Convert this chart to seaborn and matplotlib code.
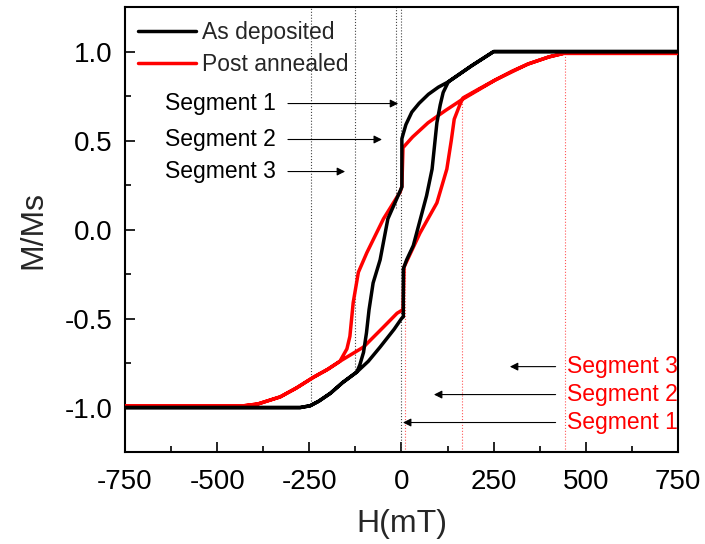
import numpy as np
import pandas as pd
import matplotlib
matplotlib.use("Agg")
import matplotlib.pyplot as plt
from matplotlib.ticker import MultipleLocator, FormatStrFormatter
import seaborn as sns

# hysteresis loops (H in mT, M/Ms)
dep_down_h = [750, 500, 250, 190, 127, 100, 73, 48, 28, 12, 5, 1, 1, -3, -37, -58, -77, -88, -95, -103, -113, -121, -160, -193, -225, -248, -275, -500, -750]
dep_down_m = [1.0, 1.0, 1.0, 0.92, 0.83, 0.80, 0.76, 0.71, 0.66, 0.59, 0.54, 0.51, 0.24, 0.22, 0.06, -0.17, -0.30, -0.45, -0.58, -0.69, -0.76, -0.80, -0.86, -0.92, -0.965, -0.99, -1.0, -1.0, -1.0]
dep_up_h = [-750, -500, -275, -248, -225, -193, -160, -121, -90, -58, -20, 0, 5, 5, 14, 32, 68, 83, 96, 105, 113, 127, 190, 250, 500, 750]
dep_up_m = [-1.0, -1.0, -1.0, -0.99, -0.965, -0.92, -0.86, -0.80, -0.74, -0.66, -0.56, -0.50, -0.49, -0.22, -0.17, -0.09, 0.19, 0.34, 0.60, 0.70, 0.77, 0.83, 0.92, 1.0, 1.0, 1.0]

ann_down_h = [750, 500, 440, 400, 343, 254, 164, 120, 72, 30, 4, 1, -4, -49, -94, -117, -131, -140, -148, -167, -200, -239, -285, -329, -390, -428, -500, -750]
ann_down_m = [0.99, 0.99, 0.99, 0.97, 0.93, 0.84, 0.73, 0.67, 0.60, 0.52, 0.46, 0.24, 0.21, 0.06, -0.13, -0.24, -0.41, -0.60, -0.67, -0.74, -0.785, -0.83, -0.89, -0.94, -0.98, -0.99, -0.99, -0.99]
ann_up_h = [-750, -500, -428, -390, -329, -285, -239, -200, -167, -103, -50, -12, 4, 7, 50, 96, 123, 135, 143, 158, 167, 210, 254, 300, 343, 400, 440, 500, 750]
ann_up_m = [-0.99, -0.99, -0.99, -0.98, -0.94, -0.89, -0.83, -0.785, -0.74, -0.66, -0.55, -0.47, -0.45, -0.21, -0.02, 0.15, 0.34, 0.50, 0.62, 0.70, 0.74, 0.79, 0.84, 0.89, 0.93, 0.97, 0.99, 0.99, 0.99]

# guide lines marking the segments
guide_dep_h = [-245, -126, -16, -1]
guide_dep_stop = [-0.98, -0.79, 0.12, -1.25]
guide_ann_h = [9.5, 163, 443]
guide_ann_stop = [-0.2, 0.72, 1.0]

# segment labels: text position and arrow head (data coords)
seg_labels = ["Segment 1", "Segment 2", "Segment 3"]
dep_text_m = [0.708, 0.506, 0.326]
dep_head_h = [-9, -53, -153]
ann_text_m = [-1.084, -0.927, -0.77]
ann_head_h = [4, 88, 294]

sns.set_style("ticks")
plt.rcParams['font.family'] = ['Liberation Sans', 'DejaVu Sans']
plt.rcParams['axes.unicode_minus'] = False

fig = plt.figure(figsize=(7.05, 5.44), dpi=100)
ax = fig.add_axes([0.1773, 0.169, 0.7844, 0.818])

dep = pd.DataFrame({'H': dep_down_h + dep_up_h, 'M': dep_down_m + dep_up_m})
ann = pd.DataFrame({'H': ann_down_h + ann_up_h, 'M': ann_down_m + ann_up_m})

ax.vlines(guide_dep_h, guide_dep_stop, 1.25, colors='#444444', linestyles=':', lw=0.8)
ax.vlines(guide_ann_h, -1.25, guide_ann_stop, colors='#ff5555', linestyles=':', lw=0.8)

sns.lineplot(data=dep, x='H', y='M', sort=False, estimator=None, color='black', lw=2.5,
             label='As deposited', ax=ax, zorder=4)
sns.lineplot(data=ann, x='H', y='M', sort=False, estimator=None, color='#ff0000', lw=2.5,
             label='Post annealed', ax=ax, zorder=3)

for lab, m, h in zip(seg_labels, dep_text_m, dep_head_h):
    ax.text(-641, m, lab, fontsize=16.5, color='black', ha='left', va='center')
    ax.annotate('', xy=(h, m), xytext=(-308, m),
                arrowprops=dict(arrowstyle='-|>', color='black', lw=0.8, mutation_scale=12, shrinkA=0, shrinkB=0))

for lab, m, h in zip(seg_labels, ann_text_m, ann_head_h):
    ax.text(750, m, lab, fontsize=16.5, color='#ff0000', ha='right', va='center')
    ax.annotate('', xy=(h, m), xytext=(418, m),
                arrowprops=dict(arrowstyle='-|>', color='black', lw=0.8, mutation_scale=12, shrinkA=0, shrinkB=0))

ax.set_xlim(-750, 750)
ax.set_ylim(-1.25, 1.25)
ax.xaxis.set_major_locator(MultipleLocator(250))
ax.xaxis.set_minor_locator(MultipleLocator(125))
ax.yaxis.set_major_locator(MultipleLocator(0.5))
ax.yaxis.set_minor_locator(MultipleLocator(0.25))
ax.yaxis.set_major_formatter(FormatStrFormatter('%.1f'))
ax.tick_params(which='both', direction='in', top=False, right=False, width=1.2, labelsize=20, colors='black')
ax.tick_params(axis='x', which='major', length=7, pad=12)
ax.tick_params(axis='y', which='major', length=7, pad=9)
ax.tick_params(which='minor', length=4)
for sp in ax.spines.values():
    sp.set_linewidth(1.5)
    sp.set_color('black')

ax.set_xlabel('H(mT)', fontsize=23, labelpad=10)
ax.set_ylabel('M/Ms', fontsize=23, labelpad=12)

ax.legend(loc='upper left', bbox_to_anchor=(-0.005, 1.005), frameon=False, fontsize=16.5,
          handlelength=2.5, handletextpad=0.3, labelspacing=0.4, borderaxespad=0.3)

fig.savefig('out.png', dpi=100)
